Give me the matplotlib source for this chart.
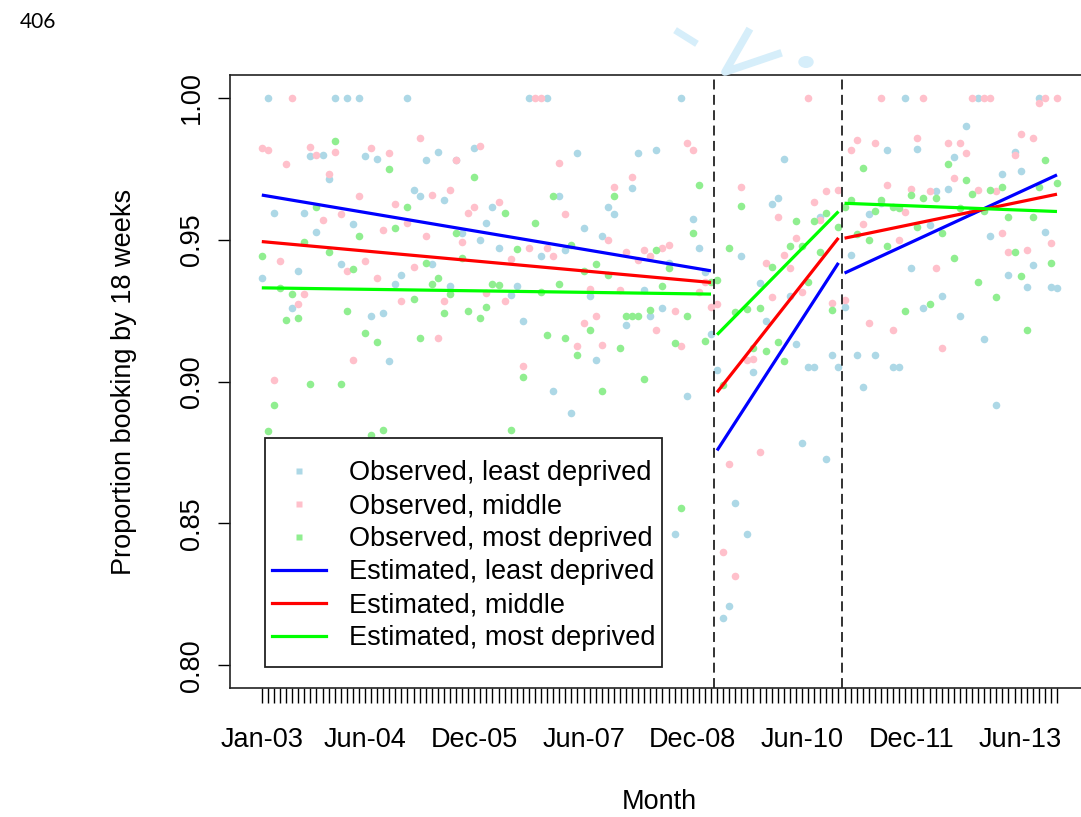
import numpy as np
import pandas as pd
import matplotlib
matplotlib.use("Agg")
import matplotlib.pyplot as plt
from matplotlib.lines import Line2D
from matplotlib.patches import Rectangle, Circle

plt.rcParams['font.family'] = ['Liberation Sans', 'DejaVu Sans']

# monthly proportions, Jan 2003 .. Dec 2013 (132 months)
least_deprived = [
    0.9364, 1.0000, 0.9595, 0.8660, 0.8700, 0.9259, 0.9390, 0.9595, 0.9795, 0.9528,
    0.9798, 0.9713, 1.0000, 0.9414, 1.0000, 0.9554, 1.0000, 0.9795, 0.9230, 0.9783,
    0.9243, 0.9071, 0.9344, 0.9376, 1.0000, 0.9675, 0.9652, 0.9779, 0.9414, 0.9810,
    0.9640, 0.9335, 0.9779, 0.9523, 0.8650, 0.9822, 0.9497, 0.9558, 0.9614, 0.9470,
    0.8620, 0.9306, 0.9335, 0.9212, 1.0000, 0.8700, 0.9443, 1.0000, 0.8966, 0.9655,
    0.9464, 0.8889, 0.9804, 0.9540, 0.9302, 0.9077, 0.9511, 0.9614, 0.9590, 0.8680,
    0.9200, 0.9681, 0.9804, 0.9323, 0.9230, 0.9816, 0.9259, 0.9418, 0.8464, 1.0000,
    0.8950, 0.9572, 0.9472, 0.9385, 0.9168, 0.9039, 0.8165, 0.8208, 0.8572, 0.9443,
    0.8464, 0.9032, 0.9347, 0.9212, 0.9626, 0.9645, 0.9783, 0.9300, 0.9132, 0.8784,
    0.9050, 0.9050, 0.9580, 0.8727, 0.9094, 0.9050, 0.9264, 0.9446, 0.9094, 0.8980,
    0.9591, 0.9094, 0.9630, 0.9816, 0.9050, 0.9050, 1.0000, 0.9400, 0.9820, 0.9259,
    0.9550, 0.9672, 0.9303, 0.9678, 0.9792, 0.9230, 0.9900, 0.9600, 1.0000, 0.9150,
    0.9511, 0.8917, 0.9730, 0.9376, 0.9807, 0.9742, 0.9333, 0.9411, 1.0000, 0.9528,
    0.9333, 0.9330,
]
middle = [
    0.9822, 0.9816, 0.9004, 0.9425, 0.9766, 1.0000, 0.9273, 0.9308, 0.9828, 0.9798,
    0.9570, 0.9731, 0.9810, 0.9591, 0.9388, 0.9077, 0.9652, 0.9425, 0.9822, 0.9364,
    0.9534, 0.9804, 0.9626, 0.9284, 0.9558, 0.9405, 0.9857, 0.9511, 0.9658, 0.9155,
    0.9284, 0.9675, 0.9779, 0.9490, 0.9595, 0.9614, 0.9830, 0.9312, 0.8700, 0.9632,
    0.9282, 0.9432, 0.8690, 0.9053, 0.9472, 1.0000, 1.0000, 0.9470, 0.9443, 0.9771,
    0.9590, 0.8720, 0.9124, 0.9206, 0.9325, 0.9230, 0.9130, 0.9499, 0.9687, 0.9323,
    0.9458, 0.9722, 0.9429, 0.9464, 0.9441, 0.9182, 0.9470, 0.9482, 0.9247, 0.9124,
    0.9842, 0.9816, 0.9317, 0.9350, 0.9261, 0.9274, 0.8398, 0.8710, 0.8314, 0.9687,
    0.9077, 0.9079, 0.8752, 0.9417, 0.9297, 0.9578, 0.9446, 0.9400, 0.9505, 0.9317,
    1.0000, 0.9632, 0.9570, 0.9670, 0.9276, 0.9675, 0.9286, 0.9816, 0.9851, 0.9554,
    0.9206, 0.9842, 1.0000, 0.9693, 0.9182, 0.9499, 0.9599, 0.9678, 0.9857, 1.0000,
    0.9670, 0.9400, 0.9118, 0.9842, 0.9716, 0.9842, 0.9804, 1.0000, 0.9675, 1.0000,
    1.0000, 0.9673, 0.9523, 0.9455, 0.9798, 0.9871, 0.9464, 0.9857, 0.9980, 1.0000,
    0.9488, 1.0000,
]
most_deprived = [
    0.9443, 0.8824, 0.8918, 0.9329, 0.9218, 0.9308, 0.9224, 0.9493, 0.8991, 0.9614,
    0.8700, 0.9455, 0.9848, 0.8991, 0.9247, 0.9396, 0.9511, 0.9170, 0.8810, 0.9138,
    0.8830, 0.9748, 0.9540, 0.8680, 0.9614, 0.9290, 0.9155, 0.9417, 0.9344, 0.9364,
    0.9241, 0.9308, 0.9523, 0.9435, 0.9247, 0.9719, 0.9224, 0.9264, 0.9344, 0.9341,
    0.9595, 0.8830, 0.9466, 0.9016, 0.8700, 0.9558, 0.9314, 0.9165, 0.9655, 0.9344,
    0.9153, 0.9482, 0.9094, 0.9388, 0.9182, 0.9414, 0.8968, 0.9376, 0.9655, 0.9118,
    0.9230, 0.9230, 0.9230, 0.9010, 0.9253, 0.9462, 0.9337, 0.9400, 0.9136, 0.8555,
    0.9230, 0.9523, 0.9693, 0.9144, 0.9350, 0.9358, 0.8989, 0.9472, 0.9244, 0.9620,
    0.9255, 0.9118, 0.9260, 0.9106, 0.9405, 0.9138, 0.9071, 0.9478, 0.9564, 0.9478,
    0.9349, 0.9564, 0.9455, 0.9595, 0.9253, 0.9546, 0.9614, 0.9640, 0.9520, 0.9754,
    0.9497, 0.9600, 0.9640, 0.9478, 0.9616, 0.9610, 0.9247, 0.9658, 0.9546, 0.9648,
    0.9273, 0.9646, 0.9523, 0.9766, 0.9435, 0.9610, 0.9710, 0.9660, 0.9350, 0.9600,
    0.9675, 0.9296, 0.9687, 0.9580, 0.9455, 0.9370, 0.9182, 0.9578, 0.9687, 0.9781,
    0.9417, 0.9699,
]

# segmented regression: (first month, last month) and fitted start/end values
segments = [(1, 75), (76, 96), (97, 132)]
fit_least = [(0.9657, 0.9390), (0.8757, 0.9418), (0.9382, 0.9728)]
fit_middle = [(0.9493, 0.9349), (0.8962, 0.9506), (0.9505, 0.9660)]
fit_most = [(0.9330, 0.9308), (0.9165, 0.9599), (0.9628, 0.9599)]
breaks = [75.5, 96.5]

label_months = [1, 18, 36, 54, 72, 90, 108, 126]

n = len(least_deprived)
month = np.arange(1, n + 1)
month_names = pd.date_range('2003-01-01', periods=n, freq='MS').strftime('%b-%y')

fs = 19.5

fig = plt.figure(figsize=(10.81, 8.17), dpi=100)
W, H = 1081, 817
ax = fig.add_axes([230 / W, (817 - 688) / H, 858.8 / W, 613 / H])

obs_cols = ['#ADD8E6', '#FFC0CB', '#90EE90']
fit_cols = ['#0000FF', '#FF0000', '#00FF00']

for vals, col in zip([least_deprived, middle, most_deprived], obs_cols):
    ax.scatter(month, vals, s=30, color=col, lw=0, zorder=2)

for fits, col in zip([fit_least, fit_middle, fit_most], fit_cols):
    for (m0, m1), (v0, v1) in zip(segments, fits):
        ax.plot([m0, m1], [v0, v1], color=col, lw=2.3, solid_capstyle='butt', zorder=3)

for b in breaks:
    ax.axvline(b, color='#222222', lw=1.3, ls=(0, (5.5, 3)), zorder=2.5)

ax.set_xlim(1 - 0.04 * (n - 1), n + 0.04 * (n - 1))
ax.set_ylim(0.792, 1.008)

ax.set_xticks(month, minor=True)
ax.set_xticks(label_months)
ax.set_xticklabels([month_names[m - 1] for m in label_months])
ax.tick_params(axis='x', which='both', direction='out', length=11, width=1, pad=17,
               labelsize=fs)
ax.set_yticks([0.80, 0.85, 0.90, 0.95, 1.00])
ax.set_yticklabels(['0.80', '0.85', '0.90', '0.95', '1.00'], rotation=90, va='center')
ax.tick_params(axis='y', direction='out', length=9, width=1, pad=9, labelsize=fs)

for sp in ax.spines.values():
    sp.set_linewidth(1.2)
    sp.set_color('#222222')

ax.set_xlabel('Month', fontsize=fs, labelpad=26)
ax.set_ylabel('Proportion booking by 18 weeks', fontsize=fs, labelpad=30)

# legend with a plain box, drawn over the points
box_x0, box_y0 = 35 / 858.8, 21 / 613
box_w, box_h = 397 / 858.8, 229 / 613
ax.add_patch(Rectangle((box_x0, box_y0), box_w, box_h, transform=ax.transAxes,
                       facecolor='white', edgecolor='#222222', lw=1.3, zorder=4))
handles = [Line2D([], [], ls='none', marker='s', ms=4.5, mec='none', mfc=c) for c in obs_cols]
handles += [Line2D([], [], color=c, lw=2.3) for c in fit_cols]
labels = ['Observed, least deprived', 'Observed, middle', 'Observed, most deprived',
          'Estimated, least deprived', 'Estimated, middle', 'Estimated, most deprived']
leg = ax.legend(handles, labels, loc='upper left', frameon=False,
                bbox_to_anchor=(box_x0 + 7 / 858.8, box_y0 + box_h - 22 / 613),
                borderaxespad=0, borderpad=0, fontsize=fs, handlelength=2.0,
                handletextpad=0.85, labelspacing=0.26)
leg.set_zorder(5)

# page number and faint watermark outside the plot
fig.text(20 / W, 1 - 22 / H, '406', fontsize=15, family='Lato', va='center', ha='left')
wm = '#D6EEFA'
fig.add_artist(Line2D([678 / W, 694 / W], [1 - 32 / H, 1 - 42 / H], color=wm, lw=5))
fig.add_artist(Line2D([748 / W, 725 / W, 778 / W], [1 - 32 / H, 1 - 72 / H, 1 - 54 / H],
                      color=wm, lw=5.5))
fig.add_artist(Circle((806 / W, 1 - 62 / H), 7 / W, color=wm, transform=fig.transFigure))

fig.savefig('out.png', dpi=100)
